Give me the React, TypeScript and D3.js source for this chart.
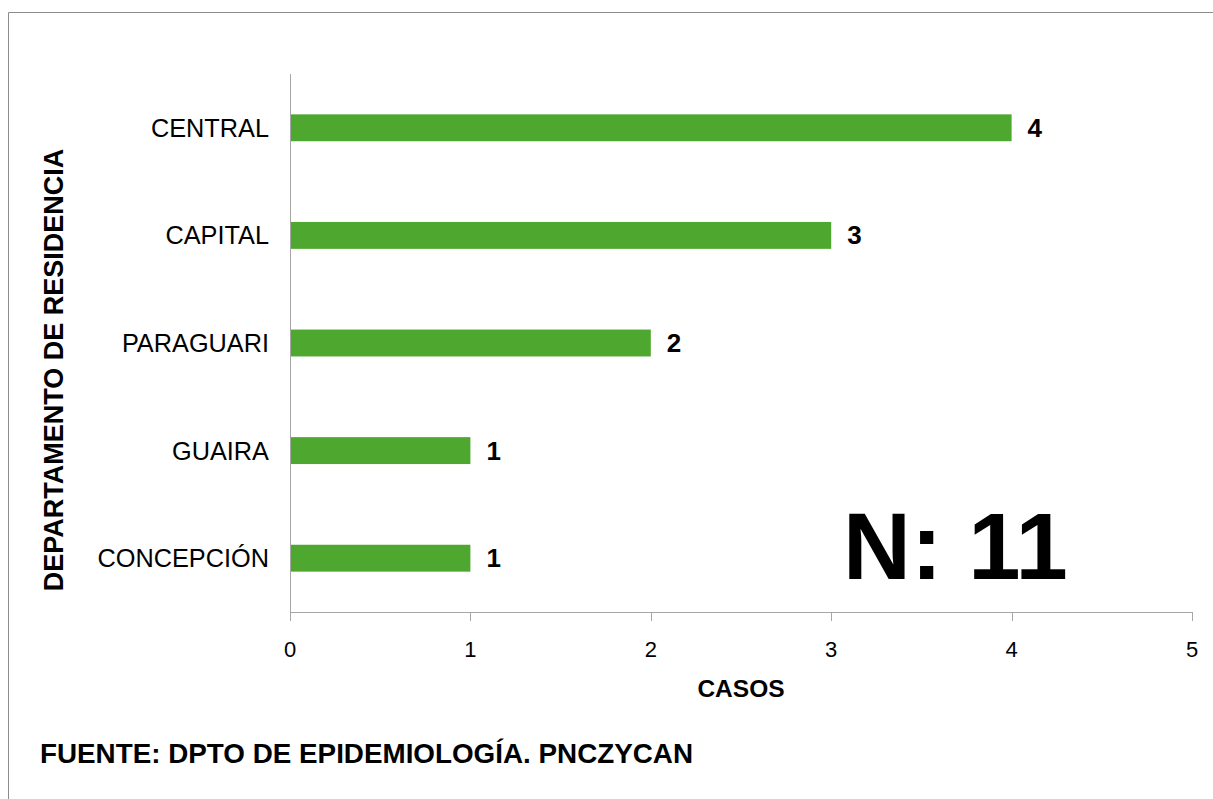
import React from "react";
import * as d3 from "d3";

const categories = ["CENTRAL", "CAPITAL", "PARAGUARI", "GUAIRA", "CONCEPCIÓN"];
const casos = [4, 3, 2, 1, 1];
const xTicks = [0, 1, 2, 3, 4, 5];
const totalLabel = "N: 11";
const xTitle = "CASOS";
const yTitle = "DEPARTAMENTO DE RESIDENCIA";
const source = "FUENTE: DPTO DE EPIDEMIOLOGÍA. PNCZYCAN";

const W = 1213;
const H = 799;
const FONT = "'Liberation Sans', Arial, sans-serif";
const GREEN = "#4EA72E";
const AXIS = "#A6A6A6";

export default function App() {
  const left = 290;
  const right = 1192;
  const top = 74;
  const bottom = 612;

  const x = d3.scaleLinear().domain([0, 5]).range([left, right]);
  const y = d3.scaleBand<string>().domain(categories).range([top, bottom]).paddingInner(0.75).paddingOuter(0.375);

  return (
    <svg
      width={W}
      height={H}
      style={{ position: "absolute", left: 0, top: 0, background: "#fff", fontFamily: FONT }}
    >
      {/* frame */}
      <line x1={8.5} y1={12.5} x2={W} y2={12.5} stroke="#8c8c8c" strokeWidth={1} />
      <line x1={8.5} y1={12.5} x2={8.5} y2={H} stroke="#8c8c8c" strokeWidth={1} />

      {/* bars */}
      {categories.map((c, i) => (
        <rect
          key={c}
          x={x(0)}
          y={y(c)!}
          width={x(casos[i]) - x(0)}
          height={y.bandwidth()}
          fill={GREEN}
        />
      ))}

      {/* value labels */}
      {categories.map((c, i) => (
        <text
          key={c + "v"}
          x={x(casos[i]) + 16}
          y={y(c)! + y.bandwidth() / 2}
          dominantBaseline="central"
          fontSize={26}
          fontWeight="bold"
          fill="#000"
        >
          {casos[i]}
        </text>
      ))}

      {/* category labels */}
      {categories.map((c) => (
        <text
          key={c + "l"}
          x={269}
          y={y(c)! + y.bandwidth() / 2}
          dominantBaseline="central"
          textAnchor="end"
          fontSize={25.3}
          fill="#000"
        >
          {c}
        </text>
      ))}

      {/* axes */}
      <line x1={left + 0.5} y1={top} x2={left + 0.5} y2={bottom} stroke={AXIS} strokeWidth={1} />
      <line x1={left} y1={bottom + 0.5} x2={right + 1} y2={bottom + 0.5} stroke={AXIS} strokeWidth={1} />
      {xTicks.map((t) => (
        <g key={t}>
          <line x1={Math.round(x(t)) + 0.5} y1={bottom} x2={Math.round(x(t)) + 0.5} y2={bottom + 9} stroke={AXIS} strokeWidth={1} />
          <text x={x(t)} y={657} textAnchor="middle" fontSize={22} fill="#000">
            {t}
          </text>
        </g>
      ))}

      {/* axis titles */}
      <text x={741} y={697} textAnchor="middle" fontSize={24.5} fontWeight="bold" fill="#000">
        {xTitle}
      </text>
      <text
        transform="translate(63,370) rotate(-90)"
        textAnchor="middle"
        fontSize={27}
        fontWeight="bold"
        fill="#000"
      >
        {yTitle}
      </text>

      {/* total */}
      <text x={843} y={579} fontSize={94} fontWeight="bold" fill="#000">
        {totalLabel}
      </text>

      {/* source */}
      <text
        x={40}
        y={763}
        fontSize={28}
        fontWeight="bold"
        fill="#000"
        textLength={653}
        lengthAdjust="spacingAndGlyphs"
      >
        {source}
      </text>
    </svg>
  );
}
